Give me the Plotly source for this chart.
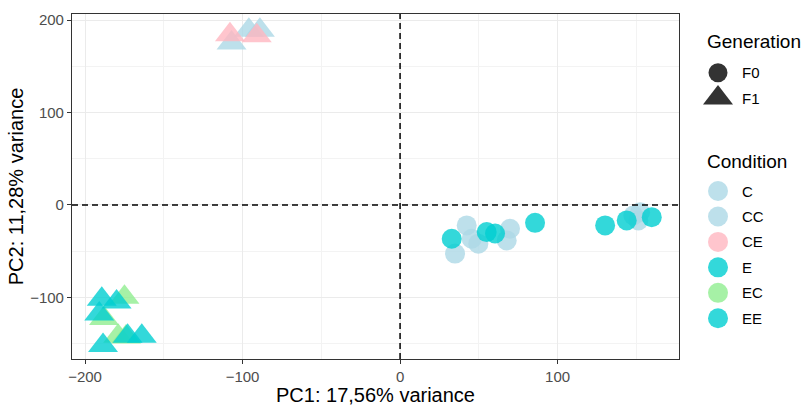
import plotly.graph_objects as go

# PCA scores per sample
pc1 = [
    # F0 - C
    34.9, 42.3, 45.5, 49.7, 69.8, 67.7, 148.1, 151.3, 152.4,
    # F0 - E
    32.8, 55.0, 60.3, 85.7, 130.2, 143.9, 159.8,
    # F1 - CC
    -107.0, -96.0, -89.0,
    # F1 - CE
    -108.0, -91.0,
    # F1 - EC
    -175.0, -188.0, -179.0, -174.0,
    # F1 - EE
    -189.4, -180.0, -191.0, -188.6, -173.0, -164.0,
]
pc2 = [
    -52.7, -22.2, -36.6, -41.9, -25.8, -38.4, -11.5, -16.8, -7.9,
    -36.6, -29.4, -31.0, -19.4, -22.2, -16.8, -13.3,
    175.0, 189.0, 189.0,
    184.0, 183.0,
    -100.0, -123.0, -142.0, -143.0,
    -102.0, -105.0, -118.0, -152.0, -142.0, -142.0,
]
condition = (["C"] * 9 + ["E"] * 7 + ["CC"] * 3 + ["CE"] * 2
             + ["EC"] * 4 + ["EE"] * 6)
generation = ["F0"] * 16 + ["F1"] * 15

conditions = ["C", "CC", "CE", "E", "EC", "EE"]
generations = ["F0", "F1"]
cond_colors = {
    "C": "#ADD8E6", "CC": "#ADD8E6", "CE": "#FFB6C1",
    "E": "#00CED1", "EC": "#90EE90", "EE": "#00CED1",
}
gen_symbols = {"F0": "circle", "F1": "triangle-up"}
gen_sizes = {"F0": 20, "F1": 26}

x_title = "PC1: 17,56% variance"
y_title = "PC2: 11,28% variance"

FONT = "Liberation Sans, Arial, sans-serif"
W, H = 805, 406
ML, MR, MT, MB = 72, 2, 14, 45
panel_right = 679
paper_w = W - ML - MR
main_frac = (panel_right - ML) / paper_w
legend_left_px = 700
legend_frac = (legend_left_px - ML) / paper_w

fig = go.Figure()

for cond in conditions:
    for gen in generations:
        idx = [i for i in range(len(pc1)) if condition[i] == cond and generation[i] == gen]
        if not idx:
            continue
        fig.add_trace(go.Scatter(
            x=[pc1[i] for i in idx], y=[pc2[i] for i in idx],
            mode="markers", showlegend=False, hoverinfo="x+y",
            marker=dict(symbol=gen_symbols[gen], size=gen_sizes[gen],
                        color=cond_colors[cond], opacity=0.8,
                        line=dict(width=0)),
            xaxis="x", yaxis="y",
        ))

# Legend panel drawn on its own axes: rows are spaced by one unit
row_px = 25.6
gen_rows = [0, 1]
cond_start = 4.65
cond_rows = [cond_start + k for k in range(len(conditions))]

fig.add_trace(go.Scatter(
    x=[18] * len(generations), y=gen_rows, mode="markers", showlegend=False,
    hoverinfo="skip", opacity=1,
    marker=dict(symbol=[gen_symbols[g] for g in generations], size=[19, 26],
                color="#333333", opacity=1, line=dict(width=0)),
    xaxis="x2", yaxis="y2",
))
fig.add_trace(go.Scatter(
    x=[18] * len(conditions), y=cond_rows, mode="markers", showlegend=False,
    hoverinfo="skip",
    marker=dict(symbol="circle", size=20, opacity=0.8,
                color=[cond_colors[c] for c in conditions], line=dict(width=0)),
    xaxis="x2", yaxis="y2",
))

annotations = []
for g, r in zip(generations, gen_rows):
    annotations.append(dict(x=40, y=r, xref="x2", yref="y2", text=g, showarrow=False,
                            xanchor="left", yanchor="middle",
                            font=dict(family=FONT, size=15, color="#000000")))
for c, r in zip(conditions, cond_rows):
    annotations.append(dict(x=40, y=r, xref="x2", yref="y2", text=c, showarrow=False,
                            xanchor="left", yanchor="middle",
                            font=dict(family=FONT, size=15, color="#000000")))
annotations.append(dict(x=5, y=-1.21, xref="x2", yref="y2", text="Generation",
                        showarrow=False, xanchor="left", yanchor="middle",
                        font=dict(family=FONT, size=19, color="#000000")))
annotations.append(dict(x=5, y=cond_start - 1.17, xref="x2", yref="y2", text="Condition",
                        showarrow=False, xanchor="left", yanchor="middle",
                        font=dict(family=FONT, size=19, color="#000000")))

# reference lines through the origin
shapes = [
    dict(type="line", xref="x", yref="y domain", x0=0, x1=0, y0=0, y1=1,
         line=dict(color="#000000", width=1.5, dash="6px,4px")),
    dict(type="line", xref="x domain", yref="y", x0=0, x1=1, y0=0, y1=0,
         line=dict(color="#000000", width=1.5, dash="6px,4px")),
]

axis_common = dict(
    showline=True, mirror=True, linecolor="#333333", linewidth=1.1,
    ticks="outside", ticklen=4, tickwidth=1, tickcolor="#333333",
    showgrid=True, gridcolor="#EBEBEB", gridwidth=1.1,
    zeroline=False, dtick=100,
    tickfont=dict(family=FONT, size=15, color="#4D4D4D"),
    minor=dict(dtick=50, showgrid=True, gridcolor="#F3F3F3", gridwidth=0.6, ticks=""),
)

legend_top = -(73 - MT) / row_px
legend_bottom = (H - MB - 73) / row_px

fig.update_layout(
    width=W, height=H,
    margin=dict(l=ML, r=MR, t=MT, b=MB, pad=0),
    paper_bgcolor="white", plot_bgcolor="white",
    font=dict(family=FONT),
    xaxis=dict(domain=[0, main_frac], range=[-208.3, 177.1], tick0=0,
               title=dict(text=x_title, font=dict(family=FONT, size=20, color="#000000"),
                          standoff=5),
               **axis_common),
    yaxis=dict(domain=[0, 1], range=[-166.7, 206.5], tick0=0,
               title=dict(text=y_title, font=dict(family=FONT, size=20, color="#000000"),
                          standoff=1),
               **axis_common),
    xaxis2=dict(domain=[legend_frac, 1], range=[0, 103], visible=False,
                fixedrange=True),
    yaxis2=dict(domain=[0, 1], range=[legend_bottom, legend_top], visible=False,
                fixedrange=True, anchor="x2"),
    shapes=shapes,
    annotations=annotations,
)
fig.update_layout(xaxis2_anchor="y2")

fig.write_html("out.html")
